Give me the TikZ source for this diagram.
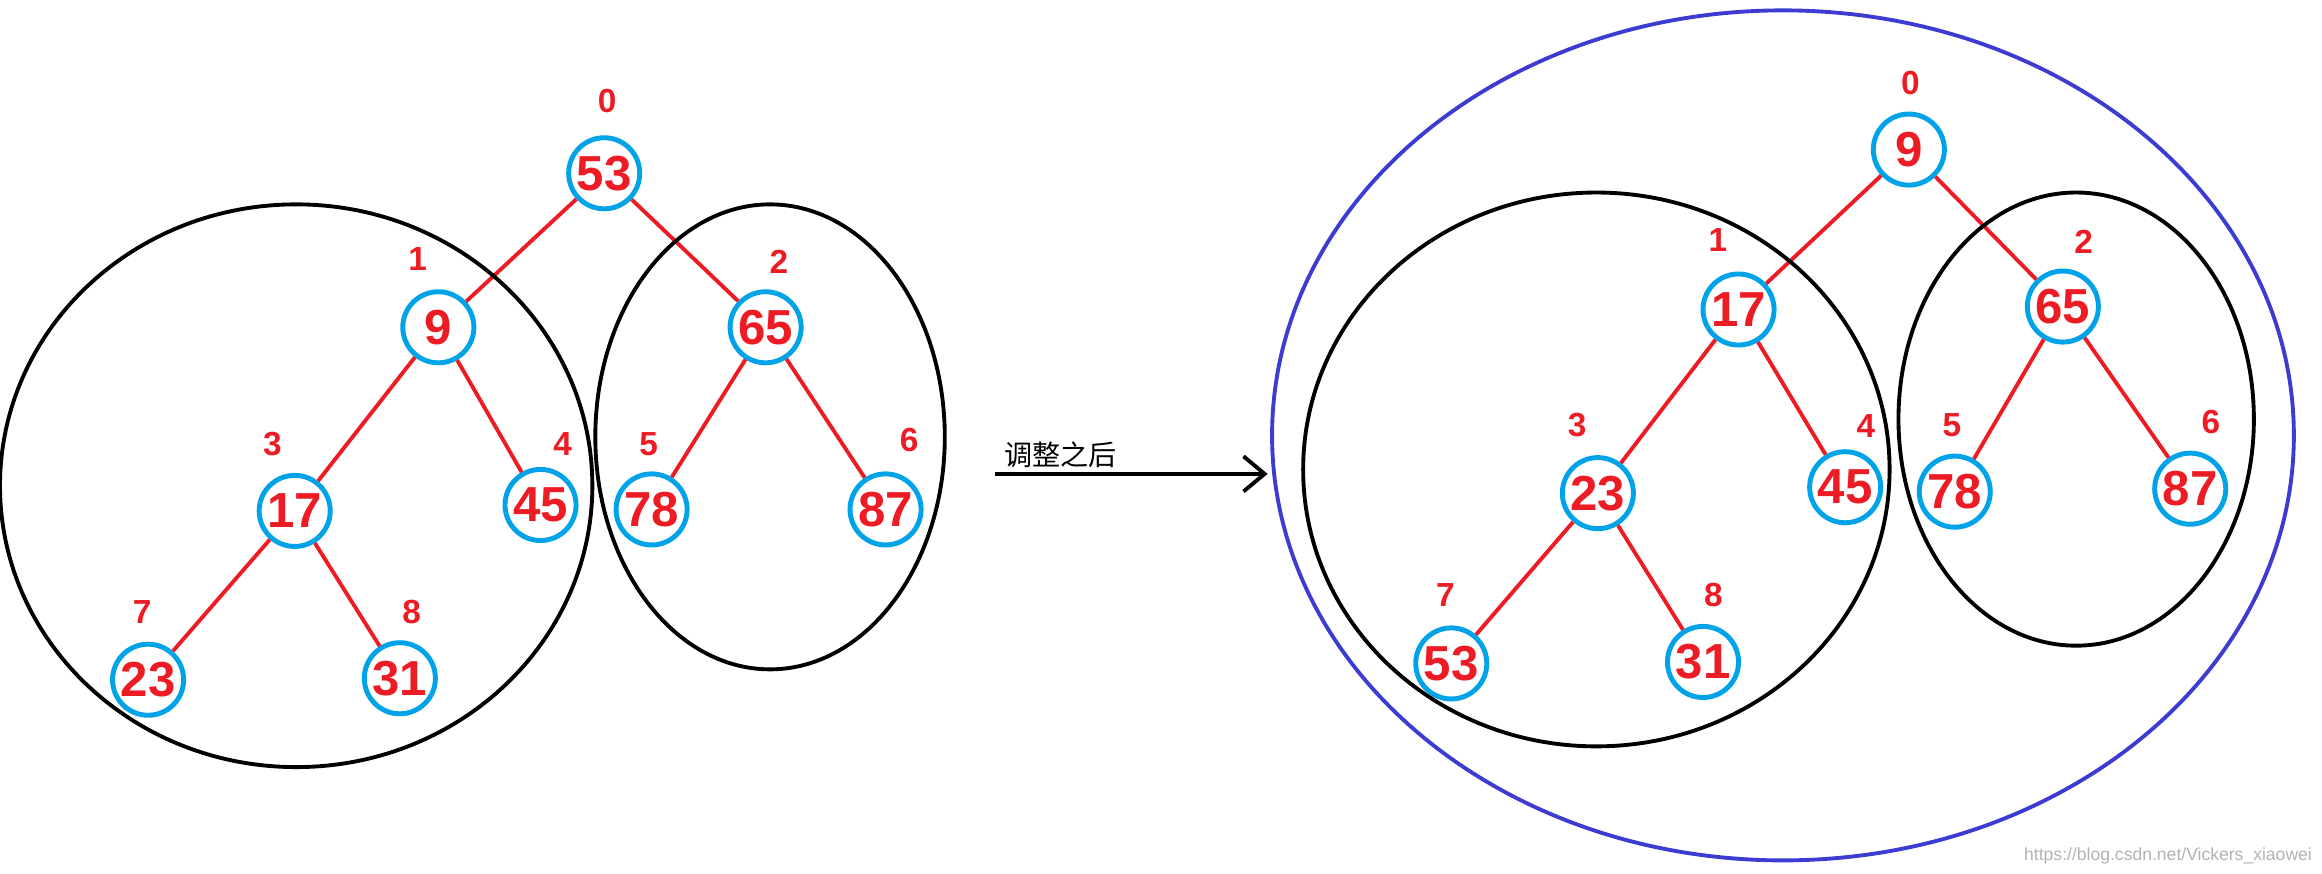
\documentclass[tikz,border=0pt]{standalone}
\usepackage{fontspec}
\usetikzlibrary{arrows.meta}
\setmainfont{Liberation Sans}
\newfontfamily\cjk{Noto Sans CJK SC}
\begin{document}
\begin{tikzpicture}[x=0.014809cm,y=-0.014809cm,
  hn/.style={circle,draw={rgb,255:red,0;green,162;blue,232},line width=1.4pt,minimum size=48*0.014809cm,inner sep=0pt,text={rgb,255:red,237;green,28;blue,36},font=\fontsize{14}{14}\selectfont\bfseries},
  idx/.style={text={rgb,255:red,237;green,28;blue,36},font=\fontsize{9.5}{10}\selectfont\bfseries},
  ed/.style={draw={rgb,255:red,237;green,28;blue,36},line width=1.1pt},
  el/.style={draw=black,line width=1.1pt}]
\useasboundingbox (0,0) rectangle (1568,590);
% left tree
\node[hn] (a0) at (408,117) {53};
\node[hn] (a1) at (296,221) {9};
\node[hn] (a2) at (517,221) {65};
\node[hn] (a3) at (199,345) {17};
\node[hn] (a4) at (365,341) {45};
\node[hn] (a5) at (440,344) {78};
\node[hn] (a6) at (598,344) {87};
\node[hn] (a7) at (100,459) {23};
\node[hn] (a8) at (270,458) {31};
\foreach \p/\c in {a0/a1,a0/a2,a1/a3,a1/a4,a2/a5,a2/a6,a3/a7,a3/a8} \draw[ed] (\p)--(\c);
\node[idx] (la0) at (410,68) {0};
\node[idx] (la1) at (282,175) {1};
\node[idx] (la2) at (526,177) {2};
\node[idx] (la3) at (184,300) {3};
\node[idx] (la4) at (380,300) {4};
\node[idx] (la5) at (438,300) {5};
\node[idx] (la6) at (614,297) {6};
\node[idx] (la7) at (96,413) {7};
\node[idx] (la8) at (278,413) {8};
\draw[el] (200,328) ellipse [x radius=200,y radius=190];
\draw[el] (520,295) ellipse [x radius=118,y radius=157];
% arrow
\coordinate (s) at (672,320); \coordinate (e) at (856,320);
\draw[line width=1.1pt,-{Straight Barb[length=6pt,width=10pt]}] (s)--(e);
\node[font=\cjk\fontsize{8}{9}\selectfont] (lab) at (716,307) {调整之后};
% right tree
\node[hn] (b0) at (1289,101) {9};
\node[hn] (b1) at (1174,209) {17};
\node[hn] (b2) at (1393,207) {65};
\node[hn] (b3) at (1079,333) {23};
\node[hn] (b4) at (1246,329) {45};
\node[hn] (b5) at (1320,332) {78};
\node[hn] (b6) at (1479,330) {87};
\node[hn] (b7) at (980,448) {53};
\node[hn] (b8) at (1150,447) {31};
\foreach \p/\c in {b0/b1,b0/b2,b1/b3,b1/b4,b2/b5,b2/b6,b3/b7,b3/b8} \draw[ed] (\p)--(\c);
\node[idx] (lb0) at (1290,56) {0};
\node[idx] (lb1) at (1160,162) {1};
\node[idx] (lb2) at (1407,163) {2};
\node[idx] (lb3) at (1065,287) {3};
\node[idx] (lb4) at (1260,288) {4};
\node[idx] (lb5) at (1318,287) {5};
\node[idx] (lb6) at (1493,285) {6};
\node[idx] (lb7) at (976,402) {7};
\node[idx] (lb8) at (1157,402) {8};
\draw[el] (1078,317) ellipse [x radius=198,y radius=187];
\draw[el] (1402,283) ellipse [x radius=120,y radius=153];
\draw[draw={rgb,255:red,60;green,60;blue,210},line width=1.1pt] (1204,294) ellipse [x radius=345,y radius=287];
\node[text=gray!60,font=\fontsize{5}{6}\selectfont,anchor=east,inner sep=1pt] (wm) at (1564,578) {https://blog.csdn.net/Vickers\_xiaowei};
\end{tikzpicture}
\end{document}
